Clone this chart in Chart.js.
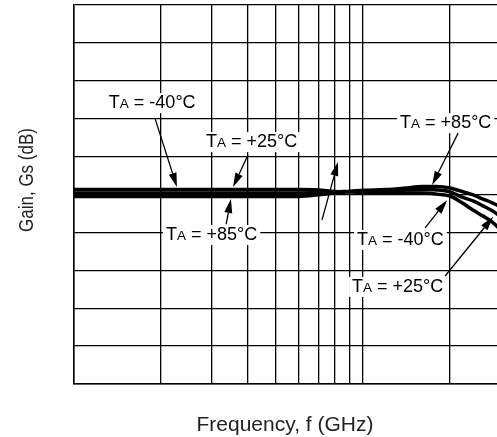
<!DOCTYPE html>
<html>
<head>
<meta charset="utf-8">
<script src="https://cdn.jsdelivr.net/npm/chart.js@4/dist/chart.umd.min.js"></script>
<style>
  html, body { margin: 0; padding: 0; background: #fff; overflow: hidden; }
  #wrap { width: 520px; height: 437px; }
</style>
</head>
<body>
<div id="wrap"><canvas id="GainChart"></canvas></div>
<script>
// frequency points (GHz) and gain readings (arbitrary dB grid, 1 dB per division)
let freq = [0.1, 0.2, 0.3, 0.4, 0.5, 0.6, 0.7, 0.8, 0.9, 1.0, 1.2, 1.4, 1.6, 1.8, 2.0, 2.2, 2.4, 2.6, 2.8, 3.0];
let gainM40 = [5.13, 5.13, 5.13, 5.13, 5.13, 5.13, 5.12, 5.08, 5.07, 5.05, 5.04, 5.04, 5.04, 5.01, 4.96, 4.78, 4.59, 4.43, 4.27, 4.06];
let gainP25 = [5.04, 5.04, 5.04, 5.04, 5.04, 5.04, 5.05, 5.07, 5.08, 5.09, 5.09, 5.12, 5.13, 5.12, 5.07, 4.93, 4.83, 4.70, 4.57, 4.41];
let gainP85 = [4.95, 4.95, 4.95, 4.95, 4.95, 4.95, 4.99, 5.04, 5.08, 5.11, 5.13, 5.17, 5.21, 5.21, 5.17, 5.08, 4.99, 4.88, 4.78, 4.67];

let xGrid = [0.1, 0.2, 0.3, 0.4, 0.5, 0.6, 0.7, 0.8, 0.9, 1, 2, 3];

// temperature labels: text, anchor [f, gain], arrow tail [f, gain], arrow tip [f, gain]
let noteText = ['-40°C', '+25°C', '+85°C', '+85°C', '-40°C', '+25°C'];
let noteAt = [[0.132, 7.28], [0.286, 6.25], [0.208, 3.80], [1.343, 6.75], [0.953, 3.67], [0.916, 2.43]];
let noteFrom = [[0.191, 6.99], [0.400, 6.04], [0.336, 4.22], [2.132, 6.62], [1.639, 4.12], [1.922, 2.85], [0.721, 4.33]];
let noteTip = [[0.227, 5.20], [0.355, 5.20], [0.349, 4.88], [1.733, 5.25], [1.953, 4.85], [2.818, 4.41], [0.819, 5.86]];

let xTitle = 'Frequency, f (GHz)';
let yTitle = 'Gain, Gs (dB)';

let FONT = "'Liberation Sans', Arial, Helvetica, sans-serif";

let toPts = (arr) => arr.map((v, i) => ({ x: freq[i], y: v }));

let drawLabel = (ctx, txt, x, y) => {
    let size = 18;
    ctx.font = `${size}px ${FONT}`;
    let wT = ctx.measureText('T').width;
    ctx.font = `${size * 0.75}px ${FONT}`;
    let wA = ctx.measureText('A').width;
    ctx.font = `${size}px ${FONT}`;
    let rest = ' = ' + txt;
    let wR = ctx.measureText(rest).width;
    let w = wT + wA + wR;
    ctx.fillStyle = '#fff';
    ctx.fillRect(x - 3, y - 15, w + 6, 20);
    ctx.fillStyle = '#000';
    ctx.textBaseline = 'alphabetic';
    ctx.textAlign = 'left';
    ctx.fillText('T', x, y);
    ctx.font = `${size * 0.75}px ${FONT}`;
    ctx.fillText('A', x + wT, y);
    ctx.font = `${size}px ${FONT}`;
    ctx.fillText(rest, x + wT + wA, y);
};

let drawArrow = (ctx, x1, y1, x2, y2) => {
    let ang = Math.atan2(y2 - y1, x2 - x1);
    let len = 14, half = 4;
    let bx = x2 - len * Math.cos(ang), by = y2 - len * Math.sin(ang);
    ctx.strokeStyle = '#000';
    ctx.lineWidth = 1.3;
    ctx.beginPath();
    ctx.moveTo(x1, y1);
    ctx.lineTo(bx, by);
    ctx.stroke();
    ctx.fillStyle = '#000';
    ctx.beginPath();
    ctx.moveTo(x2, y2);
    ctx.lineTo(bx + half * Math.sin(ang), by - half * Math.cos(ang));
    ctx.lineTo(bx - half * Math.sin(ang), by + half * Math.cos(ang));
    ctx.closePath();
    ctx.fill();
};

let notesPlugin = {
    id: 'notes',
    afterDatasetsDraw(chart) {
        let ctx = chart.ctx;
        let xs = chart.scales.x, ys = chart.scales.y;
        ctx.save();
        noteText.forEach((t, i) => {
            drawLabel(ctx, t, xs.getPixelForValue(noteAt[i][0]), ys.getPixelForValue(noteAt[i][1]));
        });
        noteFrom.forEach((p, i) => {
            drawArrow(ctx,
                xs.getPixelForValue(p[0]), ys.getPixelForValue(p[1]),
                xs.getPixelForValue(noteTip[i][0]), ys.getPixelForValue(noteTip[i][1]));
        });
        ctx.restore();
    },
    afterDraw(chart) {
        let ctx = chart.ctx;
        ctx.save();
        ctx.fillStyle = '#222';
        ctx.font = `21px ${FONT}`;
        ctx.textAlign = 'center';
        ctx.textBaseline = 'alphabetic';
        ctx.fillText(xTitle, 285, 431);
        ctx.translate(33, 180);
        ctx.rotate(-Math.PI / 2);
        ctx.scale(0.85, 1);
        ctx.font = `20px ${FONT}`;
        ctx.fillText(yTitle, 0, 0);
        ctx.restore();
    }
};

let gainChartCtx = document.getElementById('GainChart').getContext('2d');

let lineStyle = {
    borderColor: '#000',
    borderWidth: 3.5,
    pointRadius: 0,
    tension: 0.4,
    cubicInterpolationMode: 'monotone',
    fill: false
};

let gain_chart = new Chart(gainChartCtx, {
    type: 'line',
    data: {
        datasets: [
            Object.assign({ label: 'TA = -40°C', data: toPts(gainM40) }, lineStyle),
            Object.assign({ label: 'TA = +25°C', data: toPts(gainP25) }, lineStyle),
            Object.assign({ label: 'TA = +85°C', data: toPts(gainP85) }, lineStyle)
        ]
    },
    options: {
        responsive: true,
        maintainAspectRatio: false,
        animation: false,
        layout: { padding: { left: 74, top: 5, right: 19, bottom: 53 } },
        plugins: { legend: { display: false }, tooltip: { enabled: false } },
        scales: {
            x: {
                type: 'logarithmic',
                min: 0.1,
                max: 3,
                afterBuildTicks: (axis) => { axis.ticks = xGrid.map(v => ({ value: v })); },
                ticks: { display: false },
                grid: { color: '#000', lineWidth: 1.3, drawTicks: false },
                border: { color: '#000', width: 1.5 }
            },
            y: {
                min: 0,
                max: 10,
                ticks: { display: false, stepSize: 1 },
                grid: { color: '#000', lineWidth: 1.3, drawTicks: false },
                border: { color: '#000', width: 1.5 }
            }
        }
    },
    plugins: [notesPlugin]
});
</script>
</body>
</html>
